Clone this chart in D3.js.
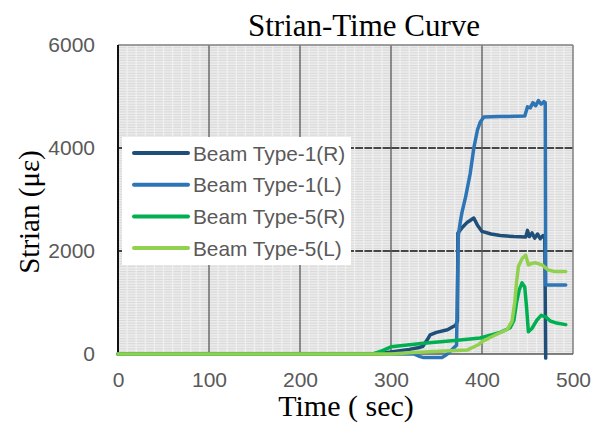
<!DOCTYPE html>
<html><head><meta charset="utf-8">
<script src="https://cdn.jsdelivr.net/npm/d3@7"></script>
<style>body{margin:0;background:#fff}</style>
</head><body>
<svg id="c" width="592" height="427"></svg>
<script>
const titleText = "Strian-Time Curve";
const xLabel = "Time ( sec)";
const yLabel = "Strian (\u03bc\u03b5)";
const xTicks = [0, 100, 200, 300, 400, 500];
const yTicks = [0, 2000, 4000, 6000];
const seriesNames = ["Beam Type-1(R)", "Beam Type-1(L)", "Beam Type-5(R)", "Beam Type-5(L)"];
const seriesColors = ["#1f4e79", "#2e75b6", "#00b050", "#92d050"];

const time1R = [0, 285, 300, 320, 330, 335, 340, 343, 350, 362, 371, 373, 373.5, 378, 384, 391, 395, 400, 410, 420, 435, 448, 450, 452, 455, 458, 461, 464, 467, 469, 470];
const val1R  = [0, 0, 40, 90, 120, 150, 280, 370, 420, 470, 560, 640, 2350, 2450, 2560, 2640, 2500, 2380, 2330, 2300, 2280, 2270, 2400, 2280, 2350, 2250, 2330, 2240, 2300, 2250, -80];

const time1L = [0, 325, 332, 336, 356, 362, 368, 372, 374, 376, 378, 382, 387, 391, 395, 398, 402, 420, 447, 450, 453, 456, 459, 462, 465, 468, 469.5, 470, 492];
const val1L  = [0, 0, -50, -70, -70, 0, 100, 170, 2300, 2550, 2750, 3050, 3500, 4000, 4350, 4500, 4600, 4610, 4620, 4800, 4780, 4880, 4820, 4920, 4850, 4900, 4880, 1340, 1340];

const time5R = [0, 280, 290, 300, 336, 370, 398, 420, 431, 435, 438, 441, 444, 447, 449, 451, 455, 460, 465, 470, 475, 482, 492];
const val5R  = [0, 0, 60, 140, 210, 260, 310, 420, 510, 650, 1000, 1250, 1380, 1300, 900, 430, 500, 650, 750, 720, 640, 600, 570];

const time5L = [0, 300, 325, 360, 384, 396, 400, 410, 428, 433, 436, 438, 440, 444, 448, 451, 455, 459, 466, 473, 480, 492];
const val5L  = [0, 0, 30, 60, 80, 180, 240, 330, 480, 640, 1000, 1400, 1700, 1850, 1920, 1730, 1760, 1770, 1730, 1630, 1600, 1600];

const seriesTimes = [time1R, time1L, time5R, time5L];
const seriesVals = [val1R, val1L, val5R, val5L];

const svg = d3.select("#c");
const L = 118, R = 573, T = 45, B = 354;
const x = d3.scaleLinear().domain([0, 500]).range([L, R]);
const y = d3.scaleLinear().domain([0, 6000]).range([B, T]);

svg.append("rect").attr("x", L).attr("y", T).attr("width", R - L).attr("height", B - T).attr("fill", "#dadada");

const g = svg.append("g");
g.selectAll(".mh").data(d3.range(25, 6000, 50)).join("line")
  .attr("x1", L).attr("x2", R).attr("y1", d => y(d)).attr("y2", d => y(d))
  .attr("stroke", "#ececec").attr("stroke-width", 1.4);
g.selectAll(".Mh").data([2000, 4000]).join("line")
  .attr("x1", L).attr("x2", R).attr("y1", d => y(d)).attr("y2", d => y(d))
  .attr("stroke", "#111").attr("stroke-width", 1.3);
g.selectAll(".mv").data(d3.range(10, 500, 10).filter(d => d % 100 !== 0)).join("line")
  .attr("x1", d => x(d)).attr("x2", d => x(d)).attr("y1", T).attr("y2", B)
  .attr("stroke", "#efefef").attr("stroke-width", 1.3);
g.selectAll(".Mv").data([100, 200, 300, 400]).join("line")
  .attr("x1", d => x(d)).attr("x2", d => x(d)).attr("y1", T).attr("y2", B)
  .attr("stroke", "#595959").attr("stroke-width", 1.3);
g.append("line").attr("x1", L).attr("x2", R).attr("y1", T).attr("y2", T).attr("stroke", "#7f7f7f").attr("stroke-width", 1.5);
g.append("line").attr("x1", R).attr("x2", R).attr("y1", T).attr("y2", B).attr("stroke", "#7f7f7f").attr("stroke-width", 1.5);
g.append("line").attr("x1", L).attr("x2", R).attr("y1", B).attr("y2", B).attr("stroke", "#595959").attr("stroke-width", 1.5);
g.append("line").attr("x1", L).attr("x2", L).attr("y1", T).attr("y2", B + 1).attr("stroke", "#111").attr("stroke-width", 2);

const tickFont = "'Liberation Sans', Arial, sans-serif";
const xAxis = d3.axisBottom(x).tickValues(xTicks).tickFormat(d3.format("d")).tickSize(0).tickPadding(18);
const xa = svg.append("g").attr("transform", `translate(0,${B})`).call(xAxis);
xa.select(".domain").remove();
xa.selectAll("text").attr("font-family", tickFont).attr("font-size", 21).attr("fill", "#595959");
const yAxis = d3.axisLeft(y).tickValues(yTicks).tickFormat(d3.format("d")).tickSize(0).tickPadding(23);
const ya = svg.append("g").attr("transform", `translate(${L},0)`).call(yAxis);
ya.select(".domain").remove();
ya.selectAll("text").attr("font-family", tickFont).attr("font-size", 21).attr("fill", "#595959");

const line = d3.line().x(d => x(d[0])).y(d => y(d[1]));
seriesNames.forEach((n, i) => {
  const pts = seriesTimes[i].map((t, j) => [t, seriesVals[i][j]]);
  svg.append("path").datum(pts).attr("d", line).attr("fill", "none")
    .attr("stroke", seriesColors[i]).attr("stroke-width", 3.5)
    .attr("stroke-linejoin", "round").attr("stroke-linecap", "round");
});

const lg = svg.append("g");
lg.append("rect").attr("x", 122).attr("y", 137).attr("width", 229).attr("height", 128).attr("fill", "#fff");
seriesNames.forEach((n, i) => {
  const cy = 153 + i * 31.7;
  lg.append("line").attr("x1", 134).attr("x2", 188).attr("y1", cy).attr("y2", cy)
    .attr("stroke", seriesColors[i]).attr("stroke-width", 4).attr("stroke-linecap", "round");
  lg.append("text").attr("x", 193).attr("y", cy + 7.5).text(n)
    .attr("font-family", tickFont).attr("font-size", 20.8).attr("fill", "#595959");
});

const serif = "'Liberation Serif', 'Times New Roman', serif";
svg.append("text").attr("x", 364).attr("y", 36).attr("text-anchor", "middle")
  .attr("font-family", serif).attr("font-size", 31).attr("fill", "#000").text(titleText);
svg.append("text").attr("x", 346).attr("y", 416).attr("text-anchor", "middle")
  .attr("font-family", serif).attr("font-size", 30).attr("fill", "#000").text(xLabel);
svg.append("text").attr("transform", "translate(39,212) rotate(-90)").attr("text-anchor", "middle")
  .attr("font-family", serif).attr("font-size", 29).attr("fill", "#000").text(yLabel);
</script>
</body></html>
